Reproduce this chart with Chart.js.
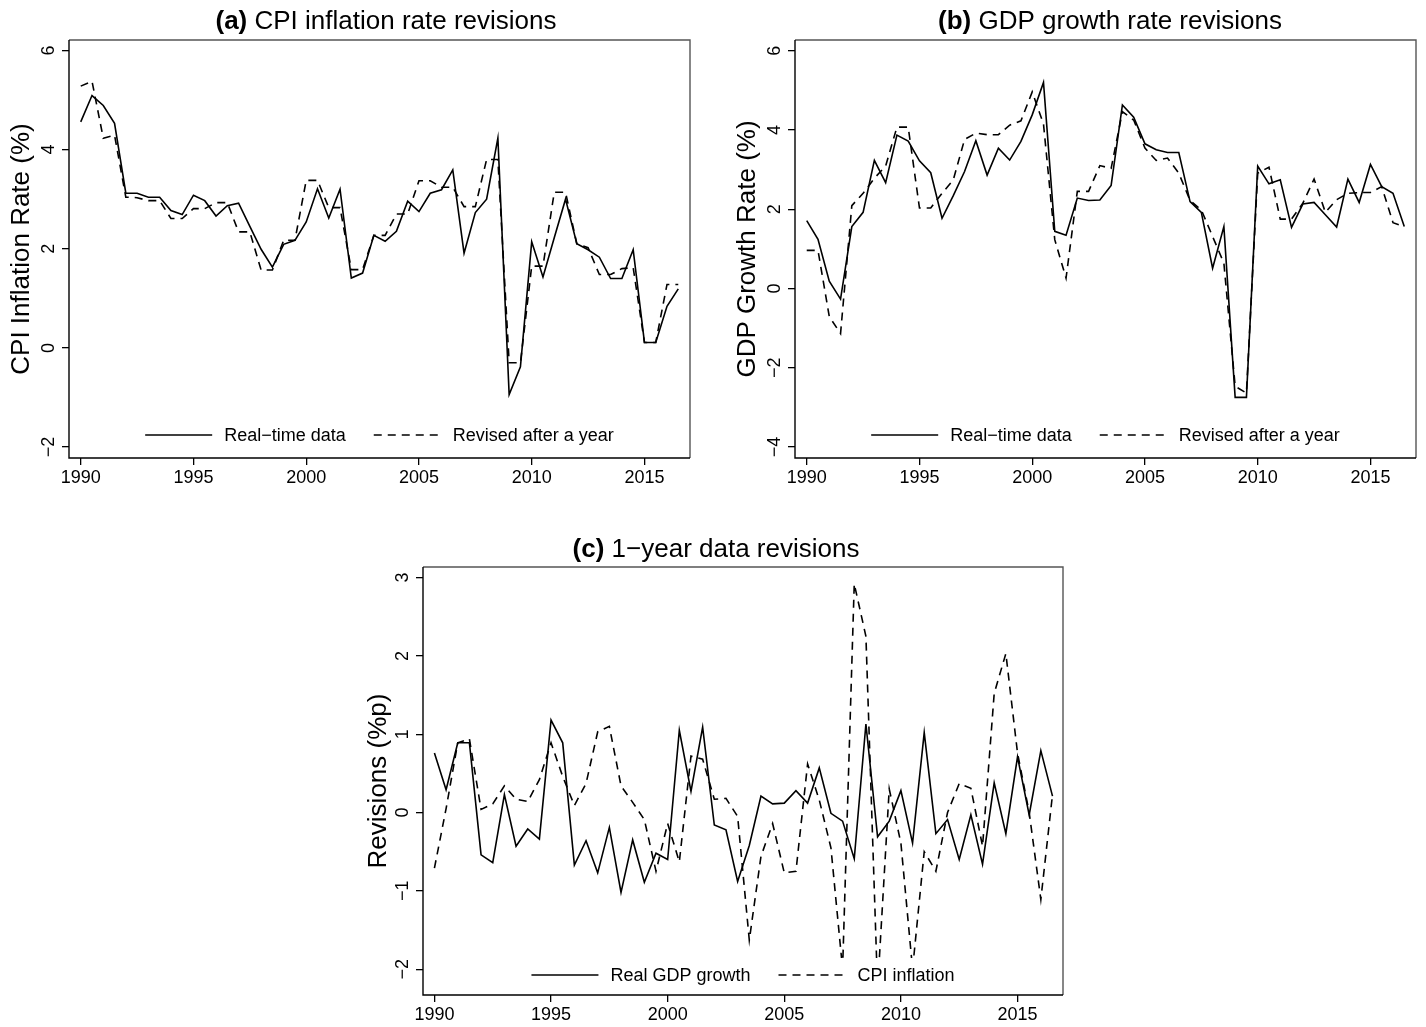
<!DOCTYPE html>
<html><head><meta charset="utf-8">
<script src="https://cdn.jsdelivr.net/npm/chart.js@4.4.1/dist/chart.umd.min.js"></script>
<style>
html,body{margin:0;padding:0;background:#fff;width:1426px;height:1027px;overflow:hidden;}
canvas{position:absolute;}
</style></head><body>
<canvas id="ca" width="713" height="500" style="left:0;top:0;width:713px;height:500px"></canvas>
<canvas id="cb" width="713" height="500" style="left:713px;top:0;width:713px;height:500px"></canvas>
<canvas id="cc" width="1426" height="507" style="left:0;top:520px;width:1426px;height:507px"></canvas>
<script>
// ---------- data ----------
const periods = [1990, 1990.5, 1991, 1991.5, 1992, 1992.5, 1993, 1993.5, 1994, 1994.5,
  1995, 1995.5, 1996, 1996.5, 1997, 1997.5, 1998, 1998.5, 1999, 1999.5,
  2000, 2000.5, 2001, 2001.5, 2002, 2002.5, 2003, 2003.5, 2004, 2004.5,
  2005, 2005.5, 2006, 2006.5, 2007, 2007.5, 2008, 2008.5, 2009, 2009.5,
  2010, 2010.5, 2011, 2011.5, 2012, 2012.5, 2013, 2013.5, 2014, 2014.5,
  2015, 2015.5, 2016, 2016.5];

const cpiRealTime = [4.56, 5.09, 4.89, 4.53, 3.12, 3.12, 3.04, 3.04, 2.77, 2.69,
  3.08, 2.97, 2.66, 2.87, 2.92, 2.45, 1.99, 1.63, 2.09, 2.17,
  2.54, 3.21, 2.62, 3.20, 1.41, 1.51, 2.27, 2.15, 2.35, 2.96,
  2.75, 3.12, 3.19, 3.59, 1.91, 2.73, 3.00, 4.23, -0.94, -0.38,
  2.14, 1.43, 2.22, 3.00, 2.10, 1.98, 1.83, 1.40, 1.40, 1.98,
  0.11, 0.11, 0.84, 1.19];

const cpiRevised = [5.28, 5.38, 4.23, 4.29, 3.04, 3.03, 2.97, 2.97, 2.61, 2.61,
  2.81, 2.81, 2.93, 2.93, 2.34, 2.34, 1.57, 1.57, 2.17, 2.17,
  3.38, 3.38, 2.83, 2.83, 1.58, 1.58, 2.27, 2.27, 2.70, 2.70,
  3.37, 3.37, 3.24, 3.24, 2.85, 2.85, 3.80, 3.80, -0.30, -0.30,
  1.65, 1.65, 3.14, 3.14, 2.10, 2.02, 1.48, 1.48, 1.60, 1.62,
  0.11, 0.11, 1.28, 1.28];

const gdpRealTime = [1.71, 1.24, 0.18, -0.27, 1.56, 1.92, 3.23, 2.67, 3.87, 3.72,
  3.22, 2.92, 1.77, 2.34, 2.95, 3.73, 2.86, 3.54, 3.24, 3.71,
  4.38, 5.20, 1.44, 1.34, 2.28, 2.22, 2.23, 2.60, 4.63, 4.32,
  3.65, 3.50, 3.43, 3.43, 2.19, 1.92, 0.51, 1.56, -2.75, -2.75,
  3.09, 2.64, 2.74, 1.54, 2.13, 2.17, 1.86, 1.55, 2.76, 2.17,
  3.13, 2.57, 2.40, 1.56];

const gdpRevised = [0.96, 0.96, -0.71, -1.14, 2.09, 2.40, 2.78, 3.09, 4.07, 4.07,
  2.03, 2.03, 2.40, 2.74, 3.76, 3.92, 3.88, 3.88, 4.12, 4.23,
  4.96, 4.15, 1.23, 0.26, 2.45, 2.45, 3.10, 3.03, 4.46, 4.25,
  3.54, 3.23, 3.29, 2.91, 2.22, 1.98, 1.31, 0.64, -2.47, -2.64,
  2.91, 3.06, 1.75, 1.75, 2.15, 2.76, 1.92, 2.24, 2.40, 2.42,
  2.42, 2.57, 1.66, 1.56];

const gdpRevision = [0.76, 0.29, 0.89, 0.89, -0.54, -0.64, 0.23, -0.43, -0.21, -0.34,
  1.18, 0.89, -0.67, -0.36, -0.77, -0.19, -1.02, -0.35, -0.89, -0.52,
  -0.60, 1.05, 0.27, 1.09, -0.16, -0.22, -0.88, -0.42, 0.21, 0.11,
  0.12, 0.28, 0.12, 0.57, -0.01, -0.11, -0.59, 1.13, -0.31, -0.11,
  0.28, -0.39, 1.02, -0.27, -0.09, -0.60, -0.03, -0.66, 0.38, -0.27,
  0.71, -0.03, 0.79, 0.21];

const cpiRevision = [-0.71, 0.05, 0.89, 0.94, 0.04, 0.11, 0.34, 0.17, 0.14, 0.42,
  0.89, 0.46, 0.09, 0.37, 1.03, 1.10, 0.34, 0.13, -0.09, -0.75,
  -0.14, -0.63, 0.72, 0.68, 0.17, 0.18, -0.05, -1.63, -0.56, -0.14,
  -0.77, -0.75, 0.62, 0.16, -0.45, -2.00, 2.92, 2.25, -2.25, 0.30,
  -0.39, -2.00, -0.50, -0.75, 0.00, 0.37, 0.31, -0.43, 1.52, 2.03,
  0.76, 0.00, -1.11, 0.23];

const xTickValues = [1990, 1995, 2000, 2005, 2010, 2015];
const xTickLabels = ['1990', '1995', '2000', '2005', '2010', '2015'];
const cpiTickValues = [-2, 0, 2, 4, 6];
const cpiTickLabels = ['\u22122', '0', '2', '4', '6'];
const gdpTickValues = [-4, -2, 0, 2, 4, 6];
const gdpTickLabels = ['\u22124', '\u22122', '0', '2', '4', '6'];
const revTickValues = [-2, -1, 0, 1, 2, 3];
const revTickLabels = ['\u22122', '\u22121', '0', '1', '2', '3'];

const legendLevels = ['Real\u2212time data', 'Revised after a year'];
const legendRevisions = ['Real GDP growth', 'CPI inflation'];

// ---------- drawing ----------
const FONT = '"Liberation Sans", Arial, Helvetica, sans-serif';
const SOLID = [];
const DASH = [8, 6];

const stataPlugin = {
  id: 'stata',
  afterDatasetsDraw(chart, args, o) {
    const ctx = chart.ctx, ca = chart.chartArea;
    ctx.save();
    ctx.font = '18px ' + FONT;
    const sampleW = 67, gapText = 12, gapItem = 28;
    const widths = o.legend.map(it => ctx.measureText(it.label).width);
    let total = 0;
    o.legend.forEach((it, i) => { total += sampleW + gapText + widths[i] + (i ? gapItem : 0); });
    let x = (ca.left + ca.right) / 2 - total / 2;
    const cy = ca.bottom - o.legendOffset;
    ctx.fillStyle = '#fff';
    ctx.fillRect(x - 10, cy - 17, total + 20, ca.bottom - 1.5 - (cy - 17));
    ctx.strokeStyle = '#000'; ctx.lineWidth = 1.6; ctx.fillStyle = '#000';
    ctx.textBaseline = 'middle'; ctx.textAlign = 'left';
    o.legend.forEach((it, i) => {
      ctx.setLineDash(it.dash);
      ctx.beginPath(); ctx.moveTo(x, cy); ctx.lineTo(x + sampleW, cy); ctx.stroke();
      ctx.setLineDash([]);
      ctx.fillText(it.label, x + sampleW + gapText, cy + 1);
      x += sampleW + gapText + widths[i] + gapItem;
    });
    ctx.restore();
  },
  afterDraw(chart, args, o) {
    const ctx = chart.ctx, ca = chart.chartArea, ys = chart.scales.y;
    ctx.save();
    ctx.lineWidth = 1.4;
    ctx.strokeStyle = '#555';
    ctx.beginPath(); ctx.moveTo(ca.left, ca.top); ctx.lineTo(ca.right, ca.top); ctx.lineTo(ca.right, ca.bottom); ctx.stroke();
    ctx.strokeStyle = '#000';
    ctx.beginPath(); ctx.moveTo(ca.left, ca.top); ctx.lineTo(ca.left, ca.bottom); ctx.lineTo(ca.right, ca.bottom); ctx.stroke();
    // rotated y tick labels
    ctx.font = '18px ' + FONT; ctx.fillStyle = '#000';
    ctx.textAlign = 'center'; ctx.textBaseline = 'alphabetic';
    o.yTickValues.forEach((v, i) => {
      const y = ys.getPixelForValue(v);
      ctx.save(); ctx.translate(ca.left - o.yLabelGap, y); ctx.rotate(-Math.PI / 2);
      ctx.fillText(o.yTickLabels[i], 0, 0); ctx.restore();
    });
    // y axis title
    ctx.font = '26px ' + FONT;
    ctx.save(); ctx.translate(ca.left - o.yTitleGap, (ca.top + ca.bottom) / 2); ctx.rotate(-Math.PI / 2);
    ctx.fillText(o.yTitle, 0, 0); ctx.restore();
    // title with bold tag
    const boldF = 'bold 26px ' + FONT, normF = '26px ' + FONT;
    ctx.font = boldF; const w1 = ctx.measureText(o.titleTag).width;
    ctx.font = normF; const w2 = ctx.measureText(' ' + o.titleText).width;
    const tx = o.titleX - (w1 + w2) / 2;
    ctx.textAlign = 'left';
    ctx.font = boldF; ctx.fillText(o.titleTag, tx, o.titleY);
    ctx.font = normF; ctx.fillText(' ' + o.titleText, tx + w1, o.titleY);
    ctx.restore();
  }
};

function makeChart(id, cfg) {
  return new Chart(document.getElementById(id), {
    type: 'line',
    data: {
      datasets: cfg.series.map(s => ({
        label: s.label,
        data: periods.map((p, i) => ({ x: p, y: s.values[i] })),
        borderColor: '#000', borderWidth: 1.6, borderDash: s.dash,
        pointRadius: 0, tension: 0, fill: false
      }))
    },
    options: {
      responsive: false, animation: false, devicePixelRatio: 1,
      layout: { padding: cfg.padding },
      plugins: {
        legend: { display: false }, tooltip: { enabled: false }, title: { display: false },
        stata: cfg.stata
      },
      scales: {
        x: {
          type: 'linear', min: cfg.xMin, max: cfg.xMax, bounds: 'data',
          afterBuildTicks: s => { s.ticks = xTickValues.map(v => ({ value: v })); },
          afterFit: s => { s.height = cfg.xAxisH; },
          grid: { drawOnChartArea: false, drawTicks: true, tickLength: 7, color: '#000', lineWidth: 1.3 },
          border: { display: false },
          ticks: {
            color: '#000', font: { family: FONT, size: 18 }, padding: 2,
            maxRotation: 0, minRotation: 0, autoSkip: false,
            callback: v => xTickLabels[xTickValues.indexOf(v)]
          }
        },
        y: {
          type: 'linear', min: cfg.yMin, max: cfg.yMax, bounds: 'data',
          afterBuildTicks: s => { s.ticks = cfg.stata.yTickValues.map(v => ({ value: v })); },
          afterFit: s => { s.width = 50; },
          grid: { drawOnChartArea: false, drawTicks: true, tickLength: 7, color: '#000', lineWidth: 1.3 },
          border: { display: false },
          ticks: { display: false }
        }
      }
    },
    plugins: [stataPlugin]
  });
}

makeChart('ca', {
  padding: { left: 19, right: 23, top: 40, bottom: 7 }, xAxisH: 35,
  xMin: 1989.48, xMax: 2017.02, yMin: -2.22, yMax: 6.21,
  series: [
    { label: legendLevels[0], values: cpiRealTime, dash: SOLID },
    { label: legendLevels[1], values: cpiRevised, dash: DASH }
  ],
  stata: {
    titleTag: '(a)', titleText: 'CPI inflation rate revisions', titleX: 386, titleY: 28.5,
    yTitle: 'CPI Inflation Rate (%)', yTitleGap: 39.7, yLabelGap: 15.5,
    yTickValues: cpiTickValues, yTickLabels: cpiTickLabels,
    legend: [{ label: legendLevels[0], dash: SOLID }, { label: legendLevels[1], dash: DASH }],
    legendOffset: 23
  }
});

makeChart('cb', {
  padding: { left: 32, right: 10, top: 40, bottom: 7 }, xAxisH: 35,
  xMin: 1989.48, xMax: 2017.02, yMin: -4.28, yMax: 6.27,
  series: [
    { label: legendLevels[0], values: gdpRealTime, dash: SOLID },
    { label: legendLevels[1], values: gdpRevised, dash: DASH }
  ],
  stata: {
    titleTag: '(b)', titleText: 'GDP growth rate revisions', titleX: 397, titleY: 28.5,
    yTitle: 'GDP Growth Rate (%)', yTitleGap: 39.7, yLabelGap: 15.5,
    yTickValues: gdpTickValues, yTickLabels: gdpTickLabels,
    legend: [{ label: legendLevels[0], dash: SOLID }, { label: legendLevels[1], dash: DASH }],
    legendOffset: 23
  }
});

makeChart('cc', {
  padding: { left: 373, right: 363, top: 47, bottom: 2 }, xAxisH: 30,
  xMin: 1989.51, xMax: 2016.95, yMin: -2.33, yMax: 3.135,
  series: [
    { label: legendRevisions[0], values: gdpRevision, dash: SOLID },
    { label: legendRevisions[1], values: cpiRevision, dash: DASH }
  ],
  stata: {
    titleTag: '(c)', titleText: '1\u2212year data revisions', titleX: 716, titleY: 37,
    yTitle: 'Revisions (%p)', yTitleGap: 37, yLabelGap: 15.5,
    yTickValues: revTickValues, yTickLabels: revTickLabels,
    legend: [{ label: legendRevisions[0], dash: SOLID }, { label: legendRevisions[1], dash: DASH }],
    legendOffset: 20
  }
});
</script>
</body></html>
